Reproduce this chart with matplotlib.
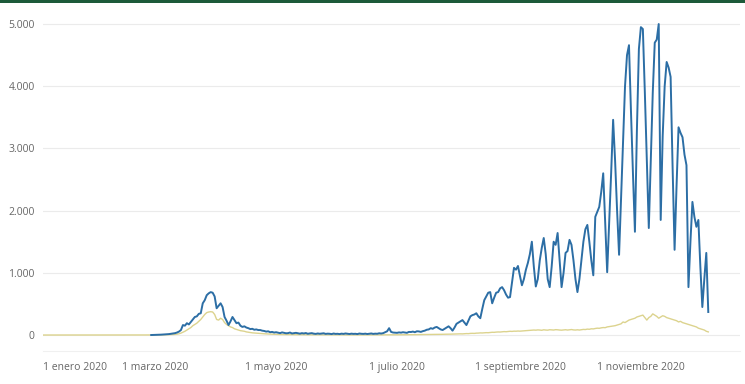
import numpy as np
import pandas as pd
import matplotlib
matplotlib.use("Agg")
import matplotlib.pyplot as plt
from matplotlib.patches import Rectangle
from matplotlib.ticker import FuncFormatter

plt.rcParams['font.family'] = ['Open Sans', 'DejaVu Sans']

# daily cases (blue), from 28 Feb 2020
blue_feb = [0, 1]
blue_mar = [2, 3, 5, 6, 8, 10, 12, 15, 20, 25, 30, 40, 55, 80, 160, 150, 190, 170, 210, 250,
            290, 300, 340, 350, 510, 560, 640, 670, 690, 680, 620]
blue_apr = [430, 470, 510, 450, 290, 230, 160, 220, 290, 240, 190, 200, 150, 130, 140, 120, 110, 95, 100, 85,
            90, 80, 80, 70, 65, 55, 60, 45, 50, 40]
blue_may = [45, 38, 30, 42, 35, 28, 30, 40, 25, 30, 35, 28, 22, 30, 25, 32, 20, 26, 30, 22,
            18, 25, 20, 24, 28, 18, 22, 20, 15, 24, 18]
blue_jun = [20, 15, 22, 18, 25, 20, 16, 22, 18, 20, 15, 24, 20, 18, 22, 16, 20, 25, 18, 22,
            20, 28, 24, 30, 45, 60, 110, 50, 40, 38]
blue_jul = [35, 42, 38, 45, 40, 35, 50, 48, 55, 45, 60, 58, 50, 62, 70, 85, 90,
            110, 100, 120, 130, 110, 90, 80, 100, 120, 140, 110, 70, 120, 180]
blue_aug = [200, 220, 240, 200, 160, 230, 300, 320, 330, 350, 300, 270, 420, 560, 620, 680, 690, 510, 600, 680,
            690, 750, 770, 720, 650, 600, 610, 850, 1080, 1050, 1110]
blue_sep = [950, 800, 900, 1050, 1160, 1300, 1500, 1100, 780, 900, 1200, 1400, 1560, 1300, 900, 770, 1100, 1500, 1450, 1640,
            1200, 770, 1000, 1320, 1350, 1530, 1450, 1200, 900, 690]
blue_oct = [900, 1200, 1500, 1700, 1770, 1500, 1200, 960, 1900, 1980, 2060, 2300, 2600, 1800, 1010, 1800, 2600, 3460, 2800, 2000,
            1290, 2200, 3100, 4000, 4500, 4660, 3600, 2600, 1660, 3300, 4600]
blue_nov = [4950, 4920, 3900, 2800, 1720, 2800, 3900, 4700, 4750, 5000, 1850, 3200, 4000, 4390, 4300, 4150, 2700, 1370, 2400, 3340,
            3250, 3180, 2900, 2730, 770, 1500, 2140, 1900, 1740, 1850]
blue_dec = [1100, 450, 900, 1320, 370]

# second series (yellow), from 4 Jan 2020
yellow_jan_feb = [0] * 57
yellow_mar = [0, 0, 1, 1, 2, 3, 4, 5, 6, 8, 10, 14, 20, 30, 45, 60, 80, 100, 120, 150,
              170, 190, 220, 250, 290, 330, 360, 370, 375, 370, 330]
yellow_apr = [250, 240, 270, 250, 200, 170, 150, 130, 120, 100, 90, 80, 70, 65, 60, 50, 45, 40, 35, 32,
              30, 28, 25, 22, 20, 18, 16, 15, 14, 12]
yellow_may = [10, 9, 8, 8, 7, 7, 6, 6, 5, 5, 5, 4, 4, 4, 4, 3, 3, 3, 3, 3,
              3, 2, 2, 2, 2, 2, 2, 2, 2, 2, 2]
yellow_jun = [2, 2, 2, 2, 1, 1, 1, 1, 1, 1, 1, 1, 1, 1, 2, 2, 2, 2, 2, 2,
              2, 2, 2, 3, 3, 3, 3, 3, 3, 3]
yellow_jul = [3, 3, 4, 4, 4, 5, 5, 5, 6, 6, 6, 7, 7, 8, 8, 8, 9, 9, 10, 10,
              10, 11, 11, 12, 12, 13, 13, 14, 15, 15, 16]
yellow_aug = [17, 19, 18, 21, 23, 22, 26, 27, 26, 30, 31, 34, 33, 36, 38, 37, 41, 44, 43, 47,
              49, 48, 52, 55, 53, 57, 60, 58, 62, 61, 64]
yellow_sep = [62, 65, 68, 70, 72, 75, 78, 80, 78, 82, 80, 76, 84, 80, 78, 85, 82, 80, 86, 84,
              80, 78, 82, 85, 80, 84, 88, 82, 80, 84]
yellow_oct = [80, 85, 90, 88, 95, 92, 100, 98, 105, 110, 108, 115, 120, 118, 130, 135, 140, 145, 150, 160,
              170, 180, 210, 200, 220, 240, 250, 260, 270, 290, 300]
yellow_nov = [310, 320, 280, 240, 280, 300, 340, 320, 300, 270, 290, 310, 300, 280, 270, 260, 250, 240, 230, 210,
              220, 200, 190, 180, 170, 160, 150, 140, 130, 110]
yellow_dec = [100, 90, 80, 60, 50]

blue = blue_feb + blue_mar + blue_apr + blue_may + blue_jun + blue_jul + blue_aug + blue_sep + blue_oct + blue_nov + blue_dec
yellow = (yellow_jan_feb + yellow_mar + yellow_apr + yellow_may + yellow_jun + yellow_jul + yellow_aug
          + yellow_sep + yellow_oct + yellow_nov + yellow_dec)
blue_dates = pd.date_range('2020-02-28', periods=len(blue), freq='D')
yellow_dates = pd.date_range('2020-01-04', periods=len(yellow), freq='D')

tick_dates = ['2020-03-01', '2020-05-01', '2020-07-01', '2020-09-01', '2020-11-01']
tick_labels = ['1 enero 2020', '1 marzo 2020', '1 mayo 2020', '1 julio 2020', '1 septiembre 2020', '1 noviembre 2020']
y_ticks = [0, 1000, 2000, 3000, 4000, 5000]

fig = plt.figure(figsize=(7.45, 3.84), dpi=100)
ax = fig.add_axes([43 / 745, 33 / 384, 697 / 745, 331 / 384])

ax.plot(yellow_dates, yellow, color='#dcd38e', lw=1.0)
ax.plot(blue_dates, blue, color='#2c6ea5', lw=1.4)

xmin = pd.Timestamp('2020-01-04 10:00')
ax.set_xlim(xmin, pd.Timestamp('2020-12-21'))
ax.set_ylim(-257, 5065)

ax.set_xticks([xmin] + [pd.Timestamp(d) for d in tick_dates])
ax.set_xticklabels(tick_labels)
ax.get_xticklabels()[0].set_horizontalalignment('left')
ax.set_yticks(y_ticks)
ax.yaxis.set_major_formatter(FuncFormatter(lambda v, p: f'{int(v):,}'.replace(',', '.')))

ax.tick_params(axis='both', length=0, labelsize=7.5, colors='#666666')
ax.tick_params(axis='x', pad=8)
ax.tick_params(axis='y', pad=6)
ax.grid(axis='y', color='#ebebeb', lw=0.8)
ax.set_axisbelow(True)
for s in ['top', 'right', 'left']:
    ax.spines[s].set_visible(False)
ax.spines['bottom'].set_color('#f0f0f0')
ax.spines['bottom'].set_linewidth(0.8)

# dark green band at the top
fig.add_artist(Rectangle((0, 1 - 3 / 384), 1, 3 / 384, transform=fig.transFigure, color='#1d5a3a', lw=0))

fig.savefig('out.png', dpi=100)
